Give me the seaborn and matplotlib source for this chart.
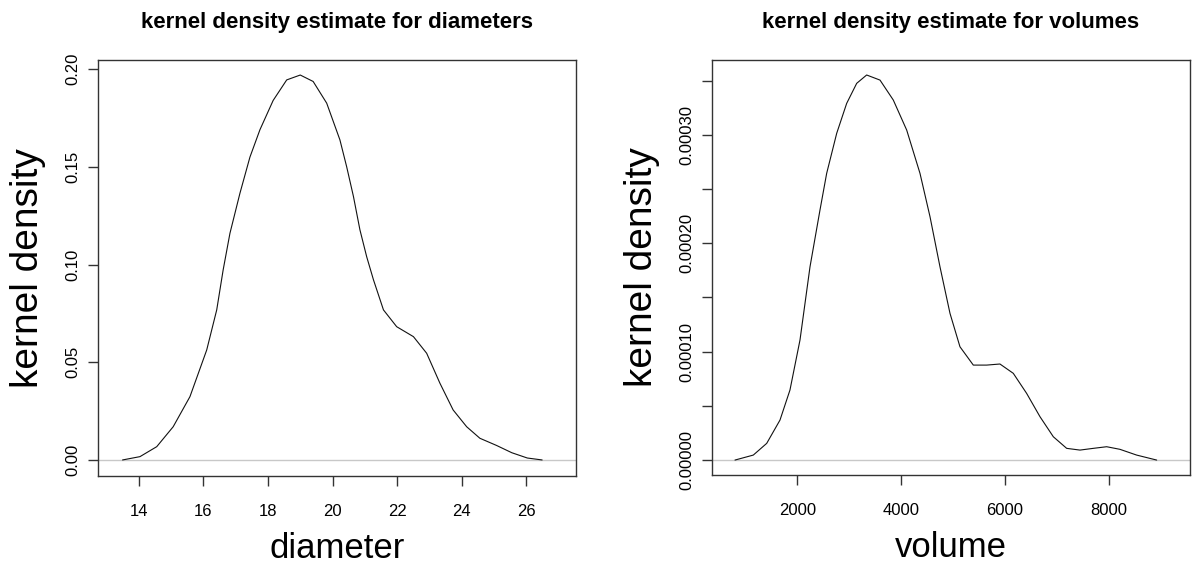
"""
Two kernel density curves (diameters and volumes), drawn R-style with seaborn.
"""

import matplotlib
matplotlib.use("Agg")
import matplotlib.pyplot as plt
import seaborn as sns

# ── Data ─────────────────────────────────────────────────────────────────────
diam_x = [13.49, 14.03, 14.55, 15.06, 15.58, 16.10, 16.41, 16.61, 16.82, 17.13,
          17.44, 17.75, 18.16, 18.58, 19.0, 19.40, 19.82, 20.23, 20.44, 20.65,
          20.85, 21.06, 21.27, 21.58, 21.99, 22.51, 22.92, 23.33, 23.74, 24.16,
          24.57, 25.09, 25.56, 26.04, 26.5]
diam_y = [0.0, 0.0017, 0.0068, 0.017, 0.0324, 0.0563, 0.0768, 0.0973, 0.116, 0.1365,
          0.155, 0.169, 0.184, 0.1945, 0.197, 0.1937, 0.1826, 0.1638, 0.150, 0.1348,
          0.1178, 0.104, 0.0922, 0.0768, 0.0682, 0.0631, 0.0546, 0.0393, 0.0256, 0.017,
          0.0111, 0.0074, 0.0037, 0.001, 0.0]

vol_x = [800, 1153, 1411, 1667, 1859, 2052, 2245, 2437, 2566, 2759,
         2951, 3144, 3336, 3593, 3849, 4107, 4363, 4556, 4748, 4941,
         5133, 5390, 5647, 5903, 6160, 6417, 6674, 6931, 7188, 7444,
         7701, 7958, 8214, 8535, 8921]
vol_y = [0.0, 4.6e-6, 1.54e-5, 3.69e-5, 6.46e-5, 1.107e-4, 1.783e-4, 2.306e-4, 2.645e-4, 3.014e-4,
         3.29e-4, 3.475e-4, 3.552e-4, 3.505e-4, 3.321e-4, 3.044e-4, 2.645e-4, 2.245e-4, 1.783e-4, 1.353e-4,
         1.045e-4, 8.76e-5, 8.76e-5, 8.86e-5, 8.0e-5, 6.15e-5, 4.0e-5, 2.15e-5, 1.08e-5, 9.2e-6,
         1.08e-5, 1.23e-5, 9.9e-6, 4.6e-6, 0.0]

diam_xticks = [14, 16, 18, 20, 22, 24, 26]
diam_yticks = [0.0, 0.05, 0.10, 0.15, 0.20]
diam_yticklabels = ["0.00", "0.05", "0.10", "0.15", "0.20"]

vol_xticks = [2000, 4000, 6000, 8000]
vol_yticks = [0.0, 0.00005, 0.0001, 0.00015, 0.0002, 0.00025, 0.0003, 0.00035]
vol_yticklabels = ["0.00000", "", "0.00010", "", "0.00020", "", "0.00030", ""]

# ── Style ────────────────────────────────────────────────────────────────────
sns.set_style("ticks")
plt.rcParams["font.family"] = ["Liberation Sans", "DejaVu Sans"]
plt.rcParams["text.color"] = "black"
plt.rcParams["axes.labelcolor"] = "black"
plt.rcParams["axes.titlecolor"] = "black"
plt.rcParams["axes.edgecolor"] = "#333333"
plt.rcParams["axes.linewidth"] = 1.0
plt.rcParams["xtick.color"] = "#333333"
plt.rcParams["ytick.color"] = "#333333"
plt.rcParams["xtick.labelcolor"] = "black"
plt.rcParams["ytick.labelcolor"] = "black"


def draw_panel(ax, x, y, title, xlabel, xticks, yticks, yticklabels, xlim, ylim):
    ax.axhline(0, color="#c8c8c8", linewidth=1.0, zorder=1)
    sns.lineplot(x=x, y=y, ax=ax, color="#111111", linewidth=0.8,
                 estimator=None, sort=False, zorder=2)
    ax.set_xlim(*xlim)
    ax.set_ylim(*ylim)
    ax.set_xticks(xticks)
    ax.set_xticklabels([str(t) for t in xticks])
    ax.set_yticks(yticks)
    ax.set_yticklabels(yticklabels, rotation=90, va="center")
    ax.tick_params(axis="both", direction="out", length=7, width=1.0,
                   labelsize=12)
    ax.tick_params(axis="x", pad=13)
    ax.tick_params(axis="y", pad=6)
    for side in ["top", "right", "bottom", "left"]:
        ax.spines[side].set_visible(True)
    ax.set_title(title, fontsize=16, fontweight="bold", pad=23, color="black")
    ax.set_xlabel(xlabel, fontsize=25, color="black")
    ax.set_ylabel("kernel density", fontsize=28, color="black")
    ax.xaxis.set_label_coords(0.5, -0.135)
    ax.yaxis.set_label_coords(-0.109, 0.5)


fig = plt.figure(figsize=(11.97, 5.68), dpi=100)
ax1 = fig.add_axes([0.0819, 0.162, 0.3993, 0.7324])
ax2 = fig.add_axes([0.5948, 0.1637, 0.3993, 0.7306])

draw_panel(ax1, diam_x, diam_y, "kernel density estimate for diameters",
           "diameter", diam_xticks, diam_yticks, diam_yticklabels,
           (12.73, 27.55), (-0.0082, 0.2047))
draw_panel(ax2, vol_x, vol_y, "kernel density estimate for volumes",
           "volume", vol_xticks, vol_yticks, vol_yticklabels,
           (357, 9562), (-0.0000138, 0.000369))

fig.savefig("out.png", dpi=100)
